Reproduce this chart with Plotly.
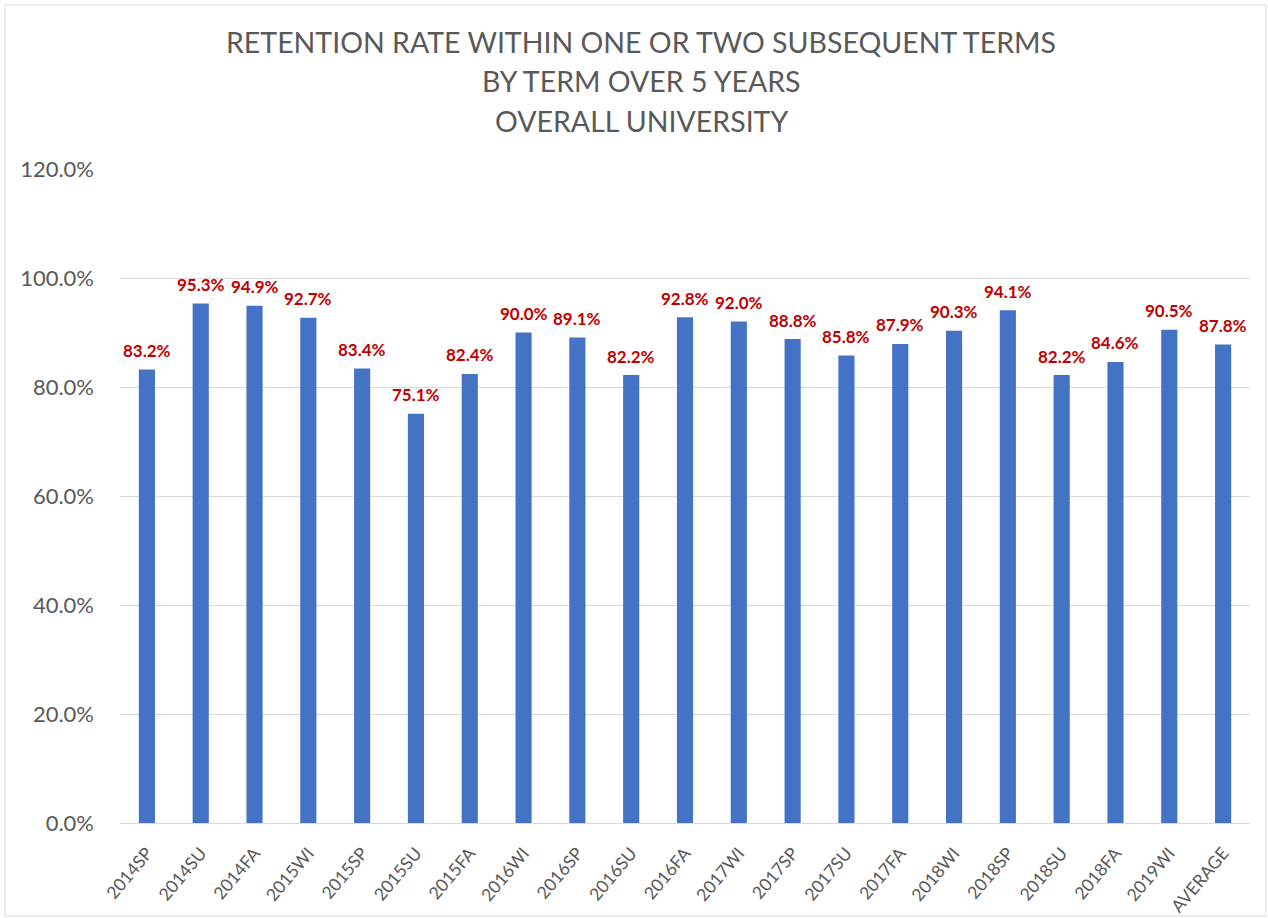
import plotly.graph_objects as go

categories = ["2014SP", "2014SU", "2014FA", "2015WI", "2015SP", "2015SU", "2015FA",
              "2016WI", "2016SP", "2016SU", "2016FA", "2017WI", "2017SP", "2017SU",
              "2017FA", "2018WI", "2018SP", "2018SU", "2018FA", "2019WI", "AVERAGE"]
values = [83.2, 95.3, 94.9, 92.7, 83.4, 75.1, 82.4, 90.0, 89.1, 82.2, 92.8,
          92.0, 88.8, 85.8, 87.9, 90.3, 94.1, 82.2, 84.6, 90.5, 87.8]
y_ticks = [0, 20, 40, 60, 80, 100, 120]
y_tick_labels = ["0.0%", "20.0%", "40.0%", "60.0%", "80.0%", "100.0%", "120.0%"]
title_lines = ["RETENTION RATE WITHIN ONE OR TWO SUBSEQUENT TERMS",
               "BY TERM OVER 5 YEARS", "OVERALL UNIVERSITY"]

FONT = "Lato"
GRAY = "#595959"

fig = go.Figure()
fig.add_trace(go.Bar(x=categories, y=values, marker=dict(color="#4472C4", line=dict(width=0)),
                     hoverinfo="x+y"))

for c, v in zip(categories, values):
    fig.add_annotation(x=c, y=v, text=f"{v:.1f}%", showarrow=False, yanchor="middle",
                       yshift=19, font=dict(family=FONT, size=17, color="#C00000", weight="bold"))

L, R, T, B = 120, 18, 169, 95
W, H = 1268, 918
pw, ph = W - L - R, H - T - B

# title lines as paper-positioned annotations
title_y = [42, 81, 121]
for line, ty in zip(title_lines, title_y):
    fig.add_annotation(xref="paper", yref="paper", x=(641 - L) / pw, y=(H - B - ty) / ph,
                       text=line, showarrow=False, xanchor="center", yanchor="middle",
                       font=dict(family=FONT, size=28.5, color=GRAY))

fig.add_shape(type="rect", xref="paper", yref="paper",
              x0=(5 - L) / pw, x1=(W - 2 - L) / pw,
              y0=(H - B - (H - 2)) / ph, y1=(H - B - 5) / ph,
              line=dict(color="#D9D9D9", width=1), layer="below")

fig.update_layout(
    width=W, height=H,
    margin=dict(l=L, r=R, t=T, b=B, autoexpand=False),
    paper_bgcolor="white", plot_bgcolor="white",
    bargap=0.7,
    showlegend=False,
    font=dict(family=FONT, color=GRAY),
    xaxis=dict(range=[-0.5, len(categories) - 0.5], tickangle=-50,
               tickfont=dict(family=FONT, size=17.5, color=GRAY), ticklabelstandoff=12,
               showgrid=False, showline=True, linecolor="#D9D9D9", linewidth=1,
               ticks="", automargin=False, fixedrange=True),
    yaxis=dict(range=[0, 120], tickvals=y_ticks, ticktext=y_tick_labels,
               tickfont=dict(family=FONT, size=22, color=GRAY), showgrid=True,
               gridcolor="#D9D9D9", gridwidth=1, zeroline=False, showline=False,
               ticklabelstandoff=25, fixedrange=True, automargin=False),
)

fig.write_html("out.html", config={"displayModeBar": False},
               post_script="document.body.style.margin='0';document.body.style.overflow='hidden';")
